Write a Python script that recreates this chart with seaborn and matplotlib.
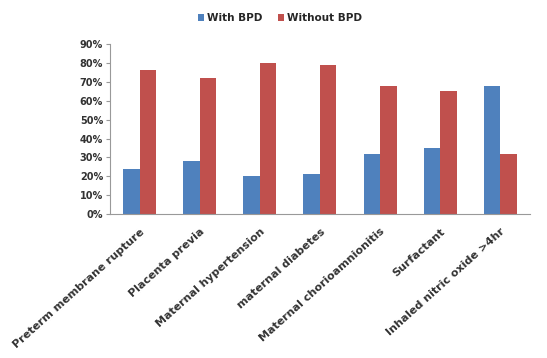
import matplotlib
matplotlib.use("Agg")
import matplotlib.pyplot as plt
import seaborn as sns
import pandas as pd
import numpy as np

categories = ["Preterm membrane rupture", "Placenta previa", "Maternal hypertension",
              "maternal diabetes", "Maternal chorioamnionitis", "Surfactant",
              "Inhaled nitric oxide >4hr"]
with_bpd = [24, 28, 20, 21, 32, 35, 68]
without_bpd = [76, 72, 80, 79, 68, 65, 32]
series = ["With BPD", "Without BPD"]
yticks = [0, 10, 20, 30, 40, 50, 60, 70, 80, 90]

df = pd.DataFrame({
    "cat": categories * 2,
    "val": with_bpd + without_bpd,
    "series": [series[0]] * len(categories) + [series[1]] * len(categories),
})

sns.set_style("white")
plt.rcParams['font.family'] = ['DejaVu Sans']

fig = plt.figure(figsize=(5.47, 3.58), dpi=100)
ax = fig.add_axes([0.201, 0.402, 0.768, 0.475])
sns.barplot(data=df, x="cat", y="val", hue="series",
            palette=["#4F81BD", "#C0504D"], width=0.55, gap=0,
            saturation=1, ax=ax, legend=True, linewidth=0)

ax.set_ylim(0, 90)
ax.set_xlim(-0.5, len(categories) - 0.5)
ax.set_yticks(yticks)
ax.set_yticklabels([f"{t}%" for t in yticks], fontsize=7, fontweight="bold", color="#333333")
ax.set_xticks(range(len(categories)))
ax.set_xticklabels(categories, rotation=42, ha="right", rotation_mode="anchor",
                   fontsize=8, fontweight="bold", color="#333333")
ax.tick_params(axis="x", length=0, pad=9)
ax.set_xticks(np.arange(-0.5, len(categories), 1), minor=True)
ax.tick_params(axis="x", which="minor", length=3, color="#999999", direction="out")
ax.tick_params(axis="y", length=3, color="#999999", direction="out", left=True, pad=2)
ax.set_xlabel("")
ax.set_ylabel("")
for s in ["top", "right"]:
    ax.spines[s].set_visible(False)
for s in ["left", "bottom"]:
    ax.spines[s].set_color("#999999")
    ax.spines[s].set_linewidth(0.8)

handles, labels = ax.get_legend_handles_labels()
ax.legend_.remove()
fig.legend(handles, labels, loc="center", bbox_to_anchor=(0.512, 0.95), ncol=2,
           frameon=False, handlelength=0.6, handleheight=0.6,
           columnspacing=1.5, handletextpad=0.3,
           prop={"weight": "bold", "size": 7.5})

fig.savefig("out.png", dpi=100)
